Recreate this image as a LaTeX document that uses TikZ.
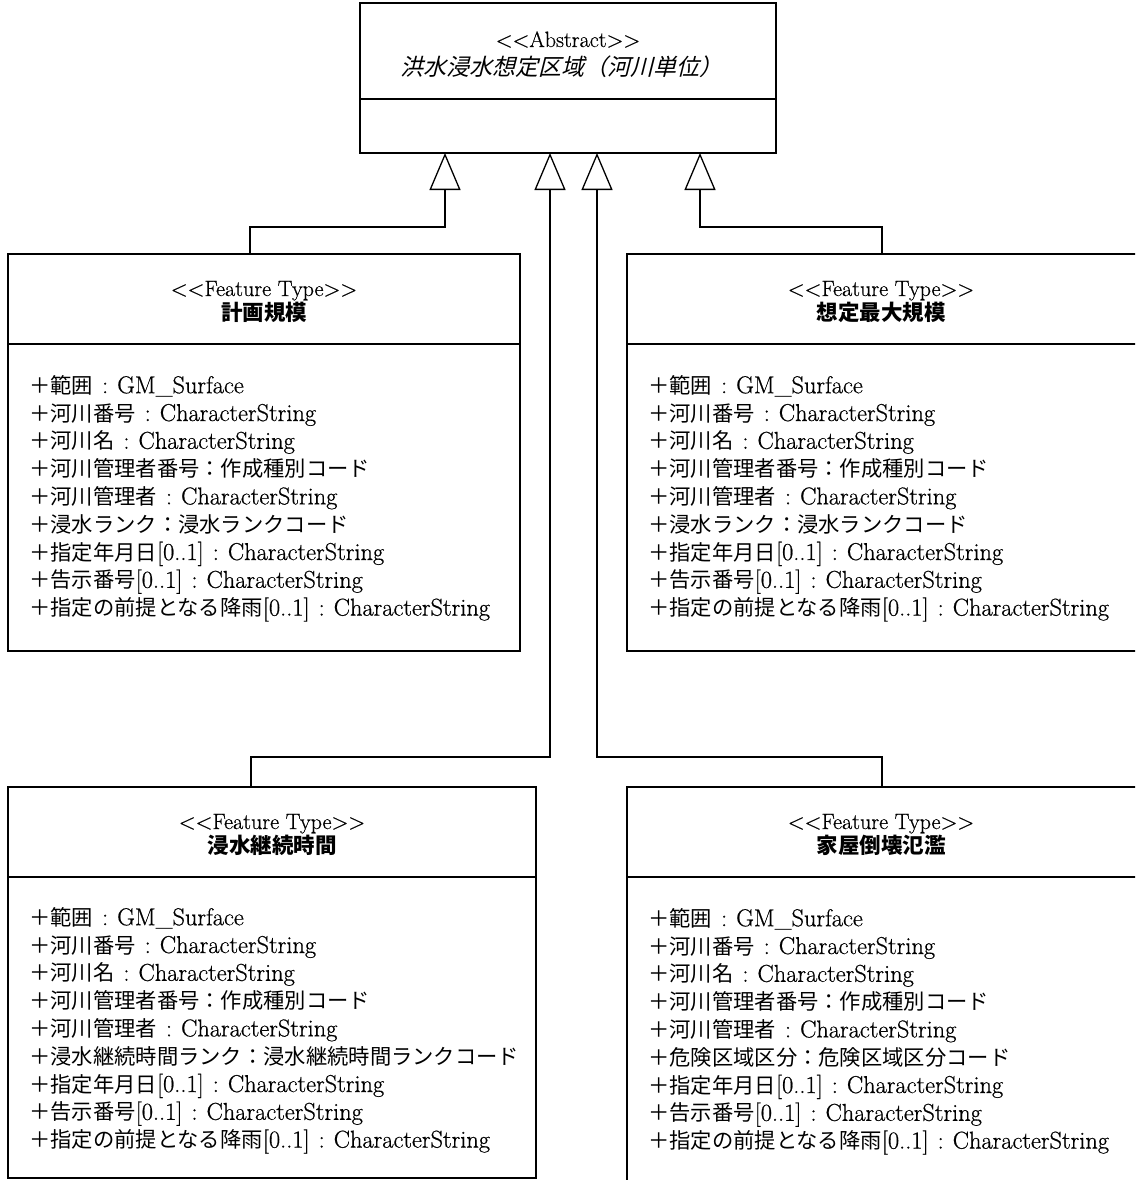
\documentclass[tikz,border=0pt]{standalone}
\usepackage{fontspec}
\setmainfont{Latin Modern Roman}[Scale=1.145, FakeBold=0.6]
\newfontfamily\jp{Noto Sans CJK JP}
\newfontfamily\jpit{Noto Sans CJK JP}[FakeSlant=0.25]
\usetikzlibrary{arrows.meta,calc}
\newcommand{\J}[1]{{\jp #1}}
\newcommand{\K}{\kern9pt:\kern9pt}
\newcommand{\LT}{<\kern0pt<}
\newcommand{\GT}{>\kern0pt>}
\tikzset{
  cls/.style={draw, line width=2pt, anchor=north west, inner sep=0pt, outer sep=0pt},
  divl/.style={line width=2pt},
  inh/.style={line width=1.6pt, -{Triangle[open,width=31pt,length=37pt,line width=1.3pt]}},
  hdr/.style={anchor=base, inner sep=0pt, font=\fontsize{19.3pt}{24pt}\selectfont},
  nm/.style={anchor=base, inner sep=0pt, font=\fontsize{21.5pt}{24pt}\selectfont\jp\bfseries},
  attr/.style={anchor=north west, align=left, inner sep=0pt, font=\fontsize{21.3pt}{27.8pt}\selectfont},
}
\begin{document}
\begin{tikzpicture}[x=1pt,y=-1pt]
\useasboundingbox (0,0) rectangle (1135,1180);
\clip (0,0) rectangle (1135,1180);

% abstract class
\node[cls, minimum width=416pt, minimum height=150pt] (top) at (360,3) {};
\draw[divl] ([yshift=-96pt]top.north west) -- ([yshift=-96pt]top.north east);
\node[hdr] (topst) at (568,47) {\LT Abstract\GT};
\node[anchor=base, inner sep=0pt, font=\fontsize{23pt}{26pt}\selectfont\jpit] (topnm) at (561,76) {洪水浸水想定区域（河川単位）};

% box 1
\node[cls, minimum width=512pt, minimum height=397pt] (b1) at (8,254) {};
\draw[divl] ([yshift=-90pt]b1.north west) -- ([yshift=-90pt]b1.north east);
\node[hdr] (b1st) at (264,296) {\LT Feature Type\GT};
\node[nm] (b1nm) at (264,320) {計画規模};
\node[attr] (b1at) at (29,375) {%
\J{＋範囲}\K GM\_Surface\\
\J{＋河川番号}\K CharacterString\\
\J{＋河川名}\K CharacterString\\
\J{＋河川管理者番号：作成種別コード}\\
\J{＋河川管理者}\K CharacterString\\
\J{＋浸水ランク：浸水ランクコード}\\
\J{＋指定年月日}[0..1]\K CharacterString\\
\J{＋告示番号}[0..1]\K CharacterString\\
\J{＋指定の前提となる降雨}[0..1]\K CharacterString};

% box 2
\node[cls, minimum width=513pt, minimum height=397pt] (b2) at (627,254) {};
\draw[divl] ([yshift=-90pt]b2.north west) -- ([yshift=-90pt]b2.north east);
\node[hdr] (b2st) at (881,296) {\LT Feature Type\GT};
\node[nm] (b2nm) at (881,320) {想定最大規模};
\node[attr] (b2at) at (648,375) {%
\J{＋範囲}\K GM\_Surface\\
\J{＋河川番号}\K CharacterString\\
\J{＋河川名}\K CharacterString\\
\J{＋河川管理者番号：作成種別コード}\\
\J{＋河川管理者}\K CharacterString\\
\J{＋浸水ランク：浸水ランクコード}\\
\J{＋指定年月日}[0..1]\K CharacterString\\
\J{＋告示番号}[0..1]\K CharacterString\\
\J{＋指定の前提となる降雨}[0..1]\K CharacterString};

% box 3
\node[cls, minimum width=528pt, minimum height=391pt] (b3) at (8,787) {};
\draw[divl] ([yshift=-90pt]b3.north west) -- ([yshift=-90pt]b3.north east);
\node[hdr] (b3st) at (272,829) {\LT Feature Type\GT};
\node[nm] (b3nm) at (272,853) {浸水継続時間};
\node[attr] (b3at) at (29,907) {%
\J{＋範囲}\K GM\_Surface\\
\J{＋河川番号}\K CharacterString\\
\J{＋河川名}\K CharacterString\\
\J{＋河川管理者番号：作成種別コード}\\
\J{＋河川管理者}\K CharacterString\\
\J{＋浸水継続時間ランク：浸水継続時間ランクコード}\\
\J{＋指定年月日}[0..1]\K CharacterString\\
\J{＋告示番号}[0..1]\K CharacterString\\
\J{＋指定の前提となる降雨}[0..1]\K CharacterString};

% box 4
\node[cls, minimum width=513pt, minimum height=403pt] (b4) at (627,787) {};
\draw[divl] ([yshift=-90pt]b4.north west) -- ([yshift=-90pt]b4.north east);
\node[hdr] (b4st) at (881,829) {\LT Feature Type\GT};
\node[nm] (b4nm) at (881,853) {家屋倒壊氾濫};
\node[attr] (b4at) at (648,908) {%
\J{＋範囲}\K GM\_Surface\\
\J{＋河川番号}\K CharacterString\\
\J{＋河川名}\K CharacterString\\
\J{＋河川管理者番号：作成種別コード}\\
\J{＋河川管理者}\K CharacterString\\
\J{＋危険区域区分：危険区域区分コード}\\
\J{＋指定年月日}[0..1]\K CharacterString\\
\J{＋告示番号}[0..1]\K CharacterString\\
\J{＋指定の前提となる降雨}[0..1]\K CharacterString};

% generalisation connectors
\coordinate (j1) at (445,227);
\coordinate (j2) at (550,757);
\coordinate (j3) at (597,757);
\coordinate (j4) at (700,227);
\draw[inh] ([xshift=242pt]b1.north west) |- (j1) -- (j1 |- top.south);
\draw[inh] ([xshift=243pt]b3.north west) |- (j2) -- (j2 |- top.south);
\draw[inh] ([xshift=255pt]b4.north west) |- (j3) -- (j3 |- top.south);
\draw[inh] ([xshift=255pt]b2.north west) |- (j4) -- (j4 |- top.south);
\end{tikzpicture}
\end{document}
